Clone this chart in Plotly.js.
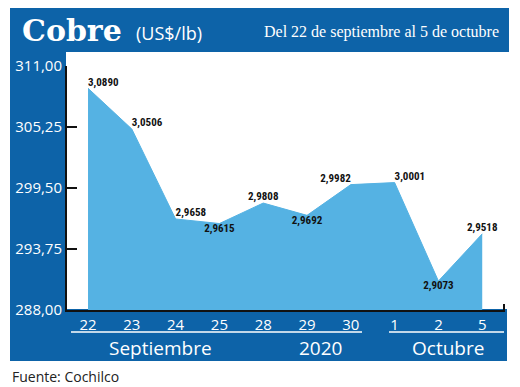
<!DOCTYPE html>
<html>
<head>
<meta charset="utf-8">
<script src="https://cdn.plot.ly/plotly-3.0.1.min.js"></script>
<style>html,body{margin:0;padding:0;background:#fff;}#chart{width:520px;height:387px;}</style>
</head>
<body>
<div id="chart"></div>
<script>
// Data
const days = ['22','23','24','25','28','29','30','1','2','5'];
const pricesUSDlb = [3.0890, 3.0506, 2.9658, 2.9615, 2.9808, 2.9692, 2.9982, 3.0001, 2.9073, 2.9518];
const priceLabels = ['3,0890','3,0506','2,9658','2,9615','2,9808','2,9692','2,9982','3,0001','2,9073','2,9518'];
const yTickVals = [288.00, 293.75, 299.50, 305.25, 311.00];
const yTickText = ['288,00','293,75','299,50','305,25','311,00'];
const labelPos = ['top right','top right','top right','bottom center','top center','bottom center','top left','top right','bottom center','top center'];

const yVals = pricesUSDlb.map(p => p * 100);

// pixel helpers for plot geometry
const L = 67, R = 505, T = 66, B = 310;
const W = R - L, H = B - T;
const px = x => (x - L) / W;
const py = y => (B - y) / H;

const BLUE = '#0d63a8';
const FILL = '#55b2e3';

const trace = {
  x: days,
  y: yVals,
  type: 'scatter',
  mode: 'lines+text',
  fill: 'tozeroy',
  fillcolor: FILL,
  line: {color: FILL, width: 1},
  text: priceLabels,
  textposition: labelPos,
  textfont: {family: 'Liberation Sans Narrow, Roboto Condensed, Roboto, sans-serif', size: 11, color: '#111', weight: 'bold'},
  hoverinfo: 'skip',
  cliponaxis: false
};

const shapes = [
  {type:'rect', xref:'paper', yref:'paper', x0:px(10), x1:px(509), y0:py(52), y1:py(8), fillcolor:BLUE, line:{width:0}, layer:'below'},
  {type:'rect', xref:'paper', yref:'paper', x0:px(10), x1:px(66), y0:py(361), y1:py(8), fillcolor:BLUE, line:{width:0}, layer:'below'},
  {type:'rect', xref:'paper', yref:'paper', x0:px(10), x1:px(507), y0:py(361), y1:py(309), fillcolor:BLUE, line:{width:0}, layer:'below'},
  {type:'line', xref:'paper', yref:'paper', x0:px(71), x1:px(362), y0:py(332), y1:py(332), line:{color:'#fff', width:1.5}},
  {type:'line', xref:'paper', yref:'paper', x0:px(389), x1:px(504), y0:py(332), y1:py(332), line:{color:'#fff', width:1.5}},
  {type:'line', xref:'paper', yref:'paper', x0:px(504), x1:px(504), y0:py(310), y1:py(304), line:{color:'#111', width:2}}
];

const ann = (text, x, y, opts) => Object.assign({
  text, x: px(x), y: py(y), xref:'paper', yref:'paper', showarrow:false,
  xanchor:'center', yanchor:'middle'
}, opts || {});

const annotations = [
  ann('Cobre', 20, 30, {xanchor:'left', font:{family:'DejaVu Serif, serif', size:30, color:'#fff', weight:'bold'}}),
  ann('(US$/lb)', 134, 33, {xanchor:'left', font:{family:'Open Sans, sans-serif', size:18, color:'#fff'}}),
  ann('Del 22 de septiembre al 5 de octubre', 501, 32, {xanchor:'right', font:{family:'Liberation Serif, serif', size:16, color:'#fff'}}),
  ann('Septiembre', 160, 348, {font:{family:'Open Sans, sans-serif', size:19, color:'#fff'}}),
  ann('2020', 320, 348, {font:{family:'Open Sans, sans-serif', size:19, color:'#fff'}}),
  ann('Octubre', 448, 348, {font:{family:'Open Sans, sans-serif', size:19, color:'#fff'}}),
  ann('Fuente: Cochilco', 10, 376, {xanchor:'left', font:{family:'Open Sans, sans-serif', size:14, color:'#222'}})
];

const layout = {
  width: 520, height: 387,
  margin: {l: L, r: 520 - R, t: T, b: 387 - B, pad: 0},
  paper_bgcolor: '#fff',
  plot_bgcolor: 'rgba(0,0,0,0)',
  showlegend: false,
  xaxis: {
    type: 'category',
    range: [-0.48, 9.52],
    showgrid: false, zeroline: false,
    showline: true, linecolor: '#111', linewidth: 2,
    ticks: '',
    ticklabelstandoff: 0,
    tickfont: {family: 'Open Sans, sans-serif', size: 15, color: '#fff'},
    fixedrange: true
  },
  yaxis: {
    range: [288, 311],
    tickvals: yTickVals, ticktext: yTickText,
    showgrid: false, zeroline: false,
    showline: true, linecolor: '#111', linewidth: 2,
    ticks: 'inside', ticklen: 10, tickwidth: 2, tickcolor: '#111',
    tickfont: {family: 'Open Sans, sans-serif', size: 15, color: '#fff'},
    fixedrange: true
  },
  shapes, annotations
};

Plotly.newPlot('chart', [trace], layout, {displayModeBar: false, staticPlot: true});
</script>
</body>
</html>
